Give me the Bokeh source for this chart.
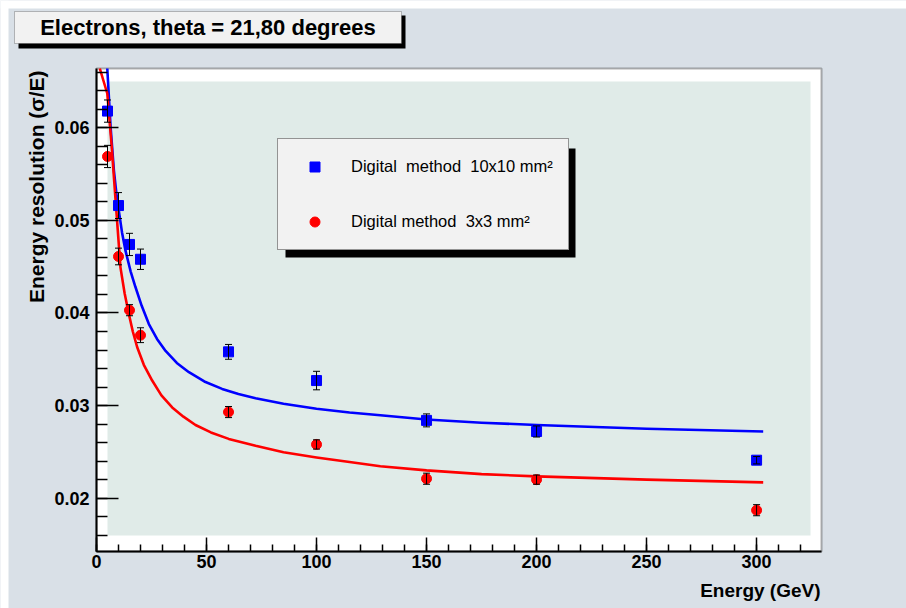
import math
from bokeh.plotting import figure
from bokeh.models import (BoxAnnotation, Label, Legend, LegendItem, Whisker, TeeHead,
                          ColumnDataSource, SingleIntervalTicker, Range1d, LinearAxis)
from bokeh.embed import file_html
from bokeh.resources import INLINE

# ---------------- data ----------------
energy = [5, 10, 15, 20, 60, 100, 150, 200, 300]
res_10x10 = [0.0618, 0.0516, 0.0474, 0.0458, 0.0358, 0.0327, 0.0284, 0.0272, 0.0241]
err_10x10 = [0.0012, 0.0014, 0.0012, 0.0011, 0.0008, 0.0010, 0.0007, 0.0006, 0.0004]
res_3x3 = [0.0569, 0.0461, 0.0403, 0.0376, 0.0293, 0.0258, 0.0221, 0.0220, 0.0187]
err_3x3 = [0.0012, 0.0009, 0.0006, 0.0008, 0.0006, 0.0005, 0.0006, 0.0005, 0.0006]

# fitted curves
fit_energy_10x10 = [4.9, 6.4, 7.9, 9.0, 10.1, 11.6, 13.2, 15.5, 17.7, 20.5, 23.8, 27.5,
                    31.4, 36.5, 42.0, 49.0, 57.1, 64.5, 72.3, 85, 100, 115, 129, 150,
                    175, 200, 250, 303]
fit_10x10 = [0.0664, 0.0601, 0.0554, 0.0530, 0.0511, 0.0487, 0.0467, 0.0445, 0.0428,
             0.0408, 0.0388, 0.0372, 0.0359, 0.0346, 0.0336, 0.0326, 0.0318, 0.03125,
             0.0308, 0.0302, 0.02966, 0.02925, 0.02895, 0.0285, 0.02815, 0.0279,
             0.0275, 0.0272]
fit_energy_3x3 = [1.5, 4.9, 6.8, 9.0, 10.9, 12.8, 14.7, 16.5, 18.5, 21.5, 25.3, 29.5,
                  34.4, 39.5, 45.0, 52.0, 60.1, 72.3, 85, 100, 115, 129, 150, 175,
                  200, 250, 303]
fit_3x3 = [0.0664, 0.0637, 0.0583, 0.0511, 0.0449, 0.0421, 0.0399, 0.0380, 0.0363,
           0.0344, 0.0327, 0.0311, 0.0298, 0.0288, 0.0279, 0.0271, 0.0264, 0.02565,
           0.02495, 0.0244, 0.0239, 0.02345, 0.0230, 0.0226, 0.02235, 0.0220, 0.0217]

title_text = "Electrons, theta = 21,80 degrees"
label_10x10 = "Digital  method  10x10 mm\u00b2"
label_3x3 = "Digital method  3x3 mm\u00b2"
x_title = "Energy (GeV)"
y_title = "Energy resolution (\u03c3/E)"

x_axis_range = (0, 329.5)
y_axis_range = (0.01424, 0.0664)

# ---------------- layout constants (pixels) ----------------
W, H = 906, 608
FRAME_L, FRAME_R, FRAME_T, FRAME_B = 96, 821, 68, 551
FONT = "Liberation Sans"
BLUE = "#0000ff"
RED = "#ff0000"

kx = (x_axis_range[1] - x_axis_range[0]) / (FRAME_R - FRAME_L)
ky = (y_axis_range[1] - y_axis_range[0]) / (FRAME_B - FRAME_T)
xr = Range1d(x_axis_range[0] - FRAME_L * kx, x_axis_range[1] + (W - FRAME_R) * kx)
yr = Range1d(y_axis_range[0] - (H - FRAME_B) * ky, y_axis_range[1] + FRAME_T * ky)

p = figure(width=W, height=H, x_range=xr, y_range=yr,
           output_backend="svg", toolbar_location=None,
           x_axis_location=None, y_axis_location=None, min_border=0)
p.background_fill_color = "#d9e0e7"
p.border_fill_color = "#d9e0e7"
p.outline_line_color = None
p.grid.visible = False


def box(l, r, t, b, **kw):
    """Box in page pixels (top-left origin)."""
    ba = BoxAnnotation(left=l, right=r, top=H - t, bottom=H - b,
                       left_units="screen", right_units="screen",
                       top_units="screen", bottom_units="screen", **kw)
    p.add_layout(ba)
    return ba

# page margin strips
box(0, W, 0, 8, fill_color="white", fill_alpha=1, line_color=None, level="underlay")
box(0, 8, 0, H, fill_color="white", fill_alpha=1, line_color=None, level="underlay")
# frame (white bevel) and inner fill
box(FRAME_L, FRAME_R, FRAME_T, FRAME_B, fill_color="white", fill_alpha=1,
    line_color="black", line_width=2, level="underlay")
box(107, 810, 81, 535, fill_color="#e0ebe8", fill_alpha=1, line_color=None, level="underlay")

# ---------------- axes ----------------
xaxis = LinearAxis(fixed_location=y_axis_range[0], bounds=x_axis_range,
                   ticker=SingleIntervalTicker(interval=50, num_minor_ticks=5))
yaxis = LinearAxis(fixed_location=x_axis_range[0], bounds=y_axis_range,
                   ticker=SingleIntervalTicker(interval=0.01, num_minor_ticks=5))
p.add_layout(xaxis, "below")
p.add_layout(yaxis, "left")
for ax in (xaxis, yaxis):
    ax.axis_line_width = 2
    ax.axis_line_color = "black"
    ax.major_tick_line_color = "black"
    ax.minor_tick_line_color = "black"
    ax.major_tick_line_width = 1.5
    ax.minor_tick_line_width = 1.5
    ax.major_tick_out = 0
    ax.minor_tick_out = 0
    ax.major_label_text_font = FONT
    ax.major_label_text_font_style = "bold"
    ax.major_label_text_font_size = "18px"
    ax.major_label_text_color = "black"
xaxis.major_tick_in = 14
xaxis.minor_tick_in = 7
yaxis.major_tick_in = 22
yaxis.minor_tick_in = 11
xaxis.major_label_standoff = 3
yaxis.major_label_standoff = 7

# ---------------- error bars, curves, points ----------------
def whisker(xs, ys, es):
    src = ColumnDataSource(dict(x=xs, lo=[y - e for y, e in zip(ys, es)],
                                hi=[y + e for y, e in zip(ys, es)]))
    w = Whisker(base="x", upper="hi", lower="lo", source=src,
                line_color="black", line_width=1, level="glyph",
                upper_head=TeeHead(size=7, line_color="black", line_width=1),
                lower_head=TeeHead(size=7, line_color="black", line_width=1))
    p.add_layout(w)

whisker(energy, res_10x10, err_10x10)
whisker(energy, res_3x3, err_3x3)

p.line(fit_energy_10x10, fit_10x10, line_color=BLUE, line_width=2.6, line_join="round")
p.line(fit_energy_3x3, fit_3x3, line_color=RED, line_width=2.6, line_join="round")

sq = p.scatter(energy, res_10x10, marker="square", size=10, fill_color=BLUE, line_color=BLUE)
ci = p.scatter(energy, res_3x3, marker="circle", size=10, fill_color=RED, line_color=RED)

# ---------------- axis titles ----------------
p.add_layout(Label(x=820, y=H - 590, x_units="screen", y_units="screen", text=x_title,
                   text_align="right", text_baseline="middle", text_font=FONT,
                   text_font_style="bold", text_font_size="19px", text_color="black"))
p.add_layout(Label(x=35.5, y=H - 70, x_units="screen", y_units="screen", text=y_title,
                   angle=math.pi / 2, text_align="right", text_baseline="middle",
                   text_font=FONT, text_font_style="bold", text_font_size="21px",
                   text_color="black"))

# ---------------- title box ----------------
box(18, 405, 15, 48, fill_color="black", fill_alpha=1, line_color=None)
box(14, 401, 11, 43, fill_color="#f2f2f2", fill_alpha=1, line_color="#333333", line_width=1)
p.add_layout(Label(x=207.5, y=H - 27, x_units="screen", y_units="screen", text=title_text,
                   text_align="center", text_baseline="middle", text_font=FONT,
                   text_font_style="bold", text_font_size="22px", text_color="black"))

# ---------------- legend ----------------
box(285, 575, 148, 257, fill_color="black", fill_alpha=1, line_color=None)
legend = Legend(items=[LegendItem(label=label_10x10, renderers=[sq]),
                       LegendItem(label=label_3x3, renderers=[ci])],
                location=(277, H - 250), orientation="vertical", padding=15, spacing=30,
                glyph_width=43, glyph_height=25, label_height=25, label_standoff=15,
                label_text_font=FONT, label_text_font_size="16.5px", label_text_color="black",
                background_fill_color="#f2f2f2", background_fill_alpha=1,
                border_line_color="#333333", border_line_width=1, margin=0)
p.add_layout(legend)

open("out.html", "w").write(file_html(p, INLINE))
